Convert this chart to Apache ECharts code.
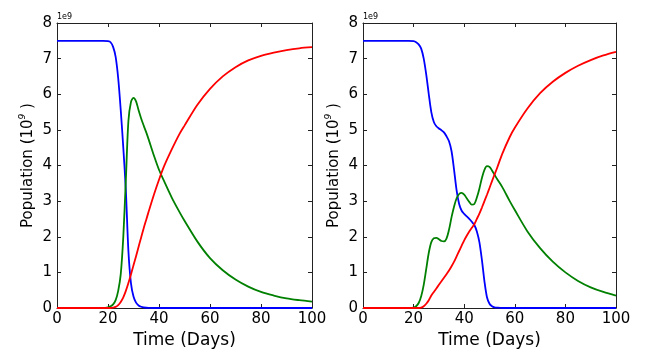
<!DOCTYPE html>
<html>
<head>
<meta charset="utf-8">
<script src="https://cdn.jsdelivr.net/npm/echarts@6/dist/echarts.min.js"></script>
<style>html,body{margin:0;padding:0;background:#fff;}#c{width:650px;height:355px;}</style>
</head>
<body>
<div id="c"></div>
<script>
// Days sampled for the left panel
var daysLeft = [0,10,18,20,21,22,23,24,25,26,27,28,29,30,31,32,33,34,35,36,38,40,42,45,48,50,55,60,65,70,75,80,85,90,95,100];
var susLeft = [7.5,7.5,7.5,7.49,7.46,7.33,7.05,6.45,5.55,4.5,3.3,1.6,0.7,0.32,0.15,0.07,0.035,0.015,0.007,0.003,0,0,0,0,0,0,0,0,0,0,0,0,0,0,0,0];
var infLeft = [0,0,0,0.02,0.05,0.1,0.22,0.48,0.95,2.0,3.6,5.25,5.78,5.9,5.8,5.55,5.32,5.12,4.93,4.72,4.28,3.88,3.56,3.1,2.7,2.45,1.87,1.4,1.06,0.8,0.6,0.45,0.35,0.27,0.22,0.18];
var recLeft = [0,0,0,0,0,0.01,0.03,0.08,0.17,0.3,0.48,0.7,0.94,1.2,1.45,1.72,1.98,2.24,2.48,2.72,3.18,3.6,3.98,4.45,4.88,5.12,5.7,6.15,6.5,6.76,6.95,7.08,7.17,7.24,7.29,7.32];

// Days sampled for the right panel
var daysRight = [0,10,18,20,21,22,23,24,25,26,27,28,29,30,31,32,33,34,35,36,37,38,39,40,41,42,43,44,45,46,47,48,49,50,51,52,53,55,58,60,65,70,75,80,85,90,95,100];
var susRight = [7.5,7.5,7.5,7.49,7.46,7.4,7.28,7.0,6.55,6.0,5.5,5.22,5.1,5.04,4.99,4.93,4.82,4.68,4.4,3.88,3.3,2.92,2.73,2.64,2.57,2.5,2.42,2.33,2.15,1.85,1.35,0.75,0.3,0.12,0.05,0.02,0.01,0,0,0,0,0,0,0,0,0,0,0];
var infRight = [0,0,0,0.01,0.05,0.14,0.33,0.65,1.1,1.55,1.85,1.96,1.97,1.93,1.88,1.87,1.95,2.2,2.55,2.85,3.08,3.2,3.23,3.18,3.08,2.98,2.9,2.92,3.1,3.35,3.65,3.88,3.98,3.96,3.86,3.74,3.62,3.4,3.0,2.75,2.15,1.68,1.3,1.0,0.76,0.58,0.45,0.35];
var recRight = [0,0,0,0,0,0,0.01,0.05,0.12,0.22,0.35,0.45,0.55,0.65,0.75,0.85,0.95,1.05,1.17,1.3,1.45,1.6,1.75,1.9,2.03,2.15,2.25,2.35,2.5,2.65,2.82,3.0,3.18,3.37,3.56,3.75,3.93,4.32,4.8,5.06,5.6,6.03,6.35,6.6,6.8,6.96,7.09,7.19];

var xTicks = {min: 0, max: 100, interval: 20};
var yTicks = {min: 0, max: 8, interval: 1};
var xTitle = 'Time (Days)';
var yTitle = '{a|Population (10}{s|9}{a| )}';
var offsetText = '1e9';

function pairs(xs, ys) { return xs.map(function (x, i) { return [x, ys[i]]; }); }

var FONT = 'DejaVu Sans';
var frameColor = '#222';

function mainX(gi) {
  return {
    type: 'value', gridIndex: gi, position: 'bottom', min: xTicks.min, max: xTicks.max, interval: xTicks.interval,
    axisLine: {show: true, onZero: false, lineStyle: {color: frameColor, width: 1}},
    axisTick: {show: true, inside: true, length: 4, lineStyle: {color: frameColor}},
    axisLabel: {show: true, margin: 4, color: '#000', fontFamily: FONT, fontSize: 15},
    splitLine: {show: false},
    name: xTitle, nameLocation: 'middle', nameGap: 18,
    nameTextStyle: {color: '#000', fontFamily: FONT, fontSize: 17, verticalAlign: 'top'}
  };
}
function topX(gi) {
  return {
    type: 'value', gridIndex: gi, position: 'top', min: xTicks.min, max: xTicks.max, interval: xTicks.interval,
    axisLine: {show: true, onZero: false, lineStyle: {color: frameColor, width: 1}},
    axisTick: {show: true, inside: true, length: 4, lineStyle: {color: frameColor}},
    axisLabel: {show: false}, splitLine: {show: false}
  };
}
function mainY(gi) {
  return {
    type: 'value', gridIndex: gi, position: 'left', min: yTicks.min, max: yTicks.max, interval: yTicks.interval,
    axisLine: {show: true, onZero: false, lineStyle: {color: frameColor, width: 1}},
    axisTick: {show: true, inside: true, length: 4, lineStyle: {color: frameColor}},
    axisLabel: {show: true, margin: 5, color: '#000', fontFamily: FONT, fontSize: 15},
    splitLine: {show: false},
    name: yTitle, nameLocation: 'middle', nameGap: 19, nameRotate: 90,
    nameTextStyle: {
      rich: {
        a: {fontFamily: FONT, fontSize: 15, color: '#000', lineHeight: 20},
        s: {fontFamily: FONT, fontSize: 9, fontStyle: 'italic', color: '#000', verticalAlign: 'top', lineHeight: 12}
      }
    }
  };
}
function rightY(gi) {
  return {
    type: 'value', gridIndex: gi, position: 'right', min: yTicks.min, max: yTicks.max, interval: yTicks.interval,
    axisLine: {show: true, onZero: false, lineStyle: {color: frameColor, width: 1}},
    axisTick: {show: true, inside: true, length: 4, lineStyle: {color: frameColor}},
    axisLabel: {show: false}, splitLine: {show: false}
  };
}
function line(data, color, xi, yi) {
  return {
    type: 'line', data: data, xAxisIndex: xi, yAxisIndex: yi, showSymbol: false, symbol: 'none',
    smooth: 0.3, clip: false, animation: false,
    lineStyle: {color: color, width: 1.8}, itemStyle: {color: color}
  };
}

var chart = echarts.init(document.getElementById('c'), null, {renderer: 'canvas'});
chart.setOption({
  animation: false,
  backgroundColor: '#fff',
  grid: [
    {left: 57, top: 23, width: 255, height: 285},
    {left: 363, top: 23, width: 253, height: 285}
  ],
  xAxis: [mainX(0), topX(0), mainX(1), topX(1)],
  yAxis: [mainY(0), rightY(0), mainY(1), rightY(1)],
  graphic: [
    {type: 'text', left: 57, top: 13, style: {text: offsetText, font: '8px "DejaVu Sans"', fill: '#000'}},
    {type: 'text', left: 363, top: 13, style: {text: offsetText, font: '8px "DejaVu Sans"', fill: '#000'}}
  ],
  series: [
    line(pairs(daysLeft, susLeft), '#0000ff', 0, 0),
    line(pairs(daysLeft, infLeft), '#008000', 0, 0),
    line(pairs(daysLeft, recLeft), '#ff0000', 0, 0),
    line(pairs(daysRight, susRight), '#0000ff', 2, 2),
    line(pairs(daysRight, infRight), '#008000', 2, 2),
    line(pairs(daysRight, recRight), '#ff0000', 2, 2)
  ]
});
</script>
</body>
</html>
